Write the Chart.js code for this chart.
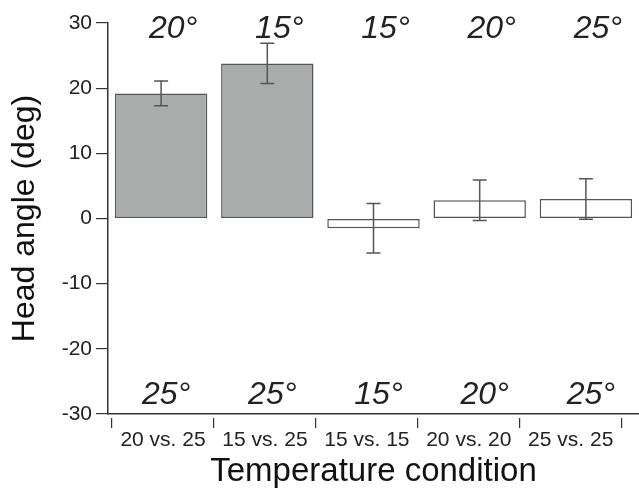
<!DOCTYPE html>
<html>
<head>
<meta charset="utf-8">
<script src="https://cdn.jsdelivr.net/npm/chart.js@4"></script>
<style>
  html, body { margin: 0; padding: 0; background: #fff; }
</style>
</head>
<body>
<canvas id="chart" width="639" height="490"></canvas>
<script>
// data
var conditions = ['20 vs. 25', '15 vs. 25', '15 vs. 15', '20 vs. 20', '25 vs. 25'];
var headAngle = [19.2, 23.8, -1.5, 2.8, 3.0];
var headAngleErr = [1.9, 3.1, 3.8, 3.1, 3.1];
var upperTemps = ['20°', '15°', '15°', '20°', '25°'];
var lowerTemps = ['25°', '25°', '15°', '20°', '25°'];
var yTicks = [-30, -20, -10, 0, 10, 20, 30];

var FONT = '"Liberation Sans", Arial, sans-serif';
Chart.defaults.font.family = FONT;

// error bars drawn on top of the bars
var errorBars = {
  id: 'errorBars',
  afterDatasetsDraw: function(chart) {
    var ctx = chart.ctx;
    var y = chart.scales.y;
    var bars = chart.getDatasetMeta(0).data;
    ctx.save();
    ctx.strokeStyle = '#555';
    ctx.lineWidth = 1.5;
    bars.forEach(function(bar, i) {
      var top = y.getPixelForValue(headAngle[i] + headAngleErr[i]);
      var bot = y.getPixelForValue(headAngle[i] - headAngleErr[i]);
      ctx.beginPath();
      ctx.moveTo(bar.x, top); ctx.lineTo(bar.x, bot);
      ctx.moveTo(bar.x - 7, top); ctx.lineTo(bar.x + 7, top);
      ctx.moveTo(bar.x - 7, bot); ctx.lineTo(bar.x + 7, bot);
      ctx.stroke();
    });
    ctx.restore();
  }
};

// temperature labels above / below each bar
var tempLabels = {
  id: 'tempLabels',
  afterDraw: function(chart) {
    var ctx = chart.ctx;
    var y = chart.scales.y;
    var bars = chart.getDatasetMeta(0).data;
    ctx.save();
    ctx.fillStyle = '#222';
    ctx.font = 'italic 32px ' + FONT;
    ctx.textAlign = 'center';
    ctx.textBaseline = 'alphabetic';
    bars.forEach(function(bar, i) {
      ctx.fillText(upperTemps[i], bar.x + 12, y.getPixelForValue(27.7));
      ctx.fillText(lowerTemps[i], bar.x + 5, y.getPixelForValue(-28.4));
    });
    ctx.restore();
  }
};

new Chart(document.getElementById('chart'), {
  type: 'bar',
  data: {
    labels: conditions,
    datasets: [{
      data: headAngle,
      backgroundColor: ['#aaacab', '#aaacab', '#ffffff', '#ffffff', '#ffffff'],
      borderColor: '#555',
      borderWidth: 1.5,
      borderSkipped: false,
      barPercentage: 0.87,
      categoryPercentage: 1
    }]
  },
  options: {
    responsive: false,
    animation: false,
    layout: { padding: { top: 23, right: 0, bottom: 0, left: 0 } },
    plugins: { legend: { display: false }, tooltip: { enabled: false } },
    scales: {
      x: {
        offset: true,
        weight: 0,
        afterFit: function(s) { s.height = 4; },
        grid: { display: false, drawTicks: false },
        ticks: { display: false },
        border: { display: true, color: '#333', width: 1.5 }
      },
      // label axis: tick marks between conditions, slightly narrower than the bars
      x2: {
        type: 'linear',
        position: 'bottom',
        weight: 1,
        offset: false,
        min: -0.04,
        max: 5.17,
        afterBuildTicks: function(s) {
          s.ticks = conditions.map(function(c, i) { return { value: i + 0.5 }; });
        },
        afterFit: function(s) { s.height = 72; },
        grid: { offset: true, drawOnChartArea: false, tickLength: 10, color: '#333', lineWidth: 1.2 },
        border: { display: false },
        ticks: {
          autoSkip: false, maxRotation: 0, padding: 0, color: '#222',
          font: { size: 21 },
          callback: function(v) { return conditions[Math.floor(v)]; }
        },
        title: {
          display: true, text: 'Temperature condition', color: '#111',
          font: { size: 33, lineHeight: 1 }, padding: { top: 0, bottom: 2 }
        }
      },
      y: {
        min: -30,
        max: 30,
        afterBuildTicks: function(s) {
          s.ticks = yTicks.map(function(v) { return { value: v }; });
        },
        afterFit: function(s) { s.width = 108; },
        grid: { drawOnChartArea: false, tickLength: 12, color: '#333', lineWidth: 1.2 },
        border: { display: true, color: '#333', width: 1.5 },
        ticks: { color: '#222', font: { size: 21 }, padding: 4 },
        title: {
          display: true, text: 'Head angle (deg)', color: '#111',
          font: { size: 32, lineHeight: 1 }, padding: { top: 9, bottom: 0 }
        }
      }
    }
  },
  plugins: [errorBars, tempLabels]
});
</script>
</body>
</html>
